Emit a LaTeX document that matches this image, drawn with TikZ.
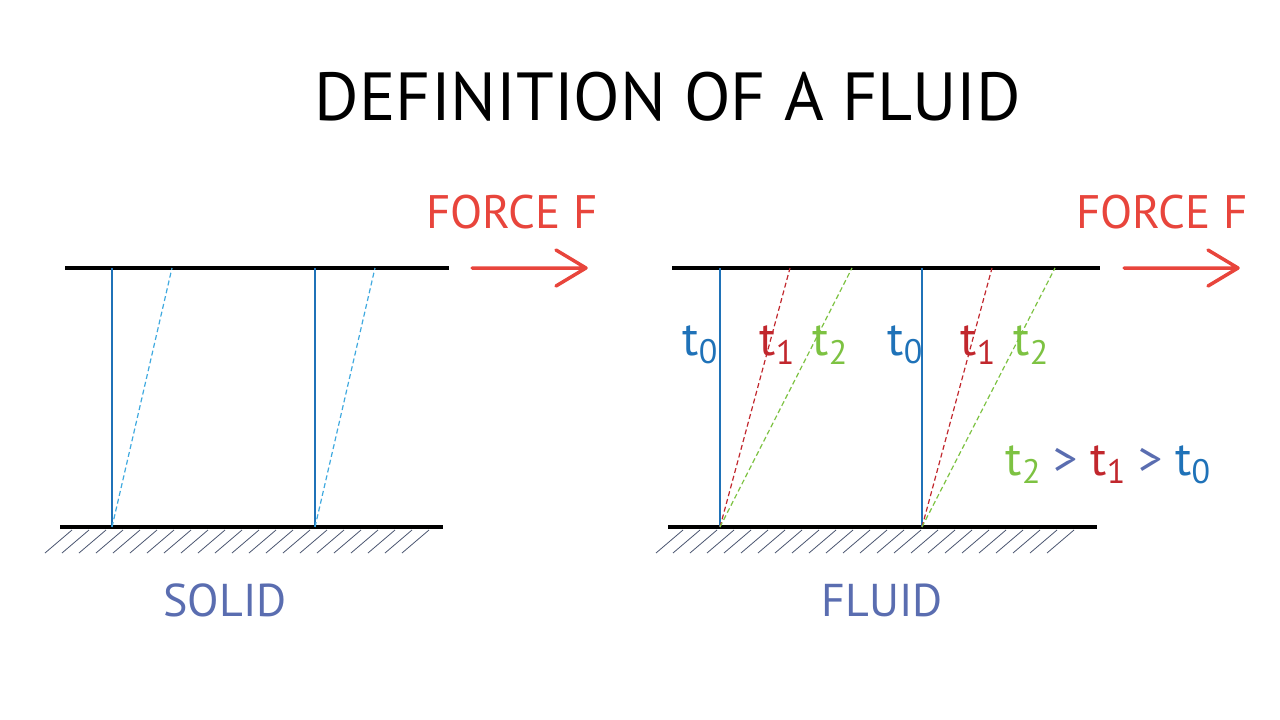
\documentclass[tikz,border=0pt]{standalone}
\usepackage{fontspec}
\setmainfont{PT Sans}
\begin{document}
\begin{tikzpicture}[x=1pt,y=-1pt,
 plate/.style={line width=4pt,black},
 post/.style={line width=1.3pt,color=tblue},
 hatch/.style={line width=0.8pt,color=hgray},
 dsolid/.style={line width=1.2pt,dashed,dash pattern=on 5pt off 3pt,color=lblue},
 dred/.style={line width=1.2pt,dash pattern=on 5pt off 3pt,color=tred},
 dgreen/.style={line width=1.2pt,dash pattern=on 5pt off 3pt,color=tgreen},
 force/.style={font=\fontsize{47}{47}\selectfont,text=fred},
 farrow/.style={line width=3.5pt,color=fred,line cap=round,line join=round},
 lab/.style={font=\fontsize{46}{46}\selectfont,text=slate},
 tl/.style={font=\fontsize{48}{48}\selectfont,inner sep=0pt}]
\definecolor{tblue}{HTML}{1F72B8}
\definecolor{lblue}{HTML}{3FA9DF}
\definecolor{tred}{HTML}{C1272D}
\definecolor{tgreen}{HTML}{7DC242}
\definecolor{fred}{HTML}{E8453C}
\definecolor{slate}{HTML}{5A6DB0}
\definecolor{hgray}{HTML}{4A5570}
\useasboundingbox (0,0) rectangle (1280,720);
\node (title) at (668,97) {\fontsize{68}{68}\selectfont DEFINITION OF A FLUID};
% SOLID
\coordinate (sa) at (65,268); \coordinate (sb) at (449,268);
\coordinate (sc) at (60,527); \coordinate (sd) at (443,527);
\foreach \x in {72,89,...,440} \draw[hatch] (\x,530) -- ++(-27,23);
\draw[plate] (sa) -- (sb);
\draw[plate] (sc) -- (sd);
\draw[post] (112,268) -- (112,527);
\draw[post] (315,268) -- (315,527);
\draw[dsolid] (112,527) -- (172,268);
\draw[dsolid] (315,527) -- (375,268);
\node[force] (f1) at (512,212) {FORCE F};
\coordinate (a1s) at (472,268); \coordinate (a1e) at (586,268);
\draw[farrow] (a1s) -- (a1e) (a1e) ++(-30,-18) -- (a1e) -- ++(-30,18);
\node[lab] (solid) at (225,600) {SOLID};
% FLUID
\foreach \x in {683,700,...,1085} \draw[hatch] (\x,530) -- ++(-27,23);
\draw[plate] (672,268) -- (1100,268);
\draw[plate] (668,527) -- (1097,527);
\foreach \b/\r/\g in {720/790/852,922/992/1055}{
 \draw[post] (\b,268) -- (\b,527);
 \draw[dred] (\b,527) -- (\r,268);
 \draw[dgreen] (\b,527) -- (\g,268);
}
\foreach \x/\y/\z in {700/777/830,905/978/1031}{
 \node[tl,text=tblue] at (\x,345) {t\raisebox{-0.35ex}{\fontsize{34}{34}\selectfont 0}};
 \node[tl,text=tred] at (\y,345) {t\raisebox{-0.35ex}{\fontsize{34}{34}\selectfont 1}};
 \node[tl,text=tgreen] at (\z,345) {t\raisebox{-0.35ex}{\fontsize{34}{34}\selectfont 2}};
}
\node[tl] (ineq) at (1108,465) {\textcolor{tgreen}{t\raisebox{-0.35ex}{\fontsize{34}{34}\selectfont 2}} \textcolor{slate}{>} \textcolor{tred}{t\raisebox{-0.35ex}{\fontsize{34}{34}\selectfont 1}} \textcolor{slate}{>} \textcolor{tblue}{t\raisebox{-0.35ex}{\fontsize{34}{34}\selectfont 0}}};
\node[force] (f2) at (1162,212) {FORCE F};
\coordinate (a2s) at (1124,268); \coordinate (a2e) at (1238,268);
\draw[farrow] (a2s) -- (a2e) (a2e) ++(-30,-18) -- (a2e) -- ++(-30,18);
\node[lab] (fluid) at (882,600) {FLUID};
\end{tikzpicture}
\end{document}
